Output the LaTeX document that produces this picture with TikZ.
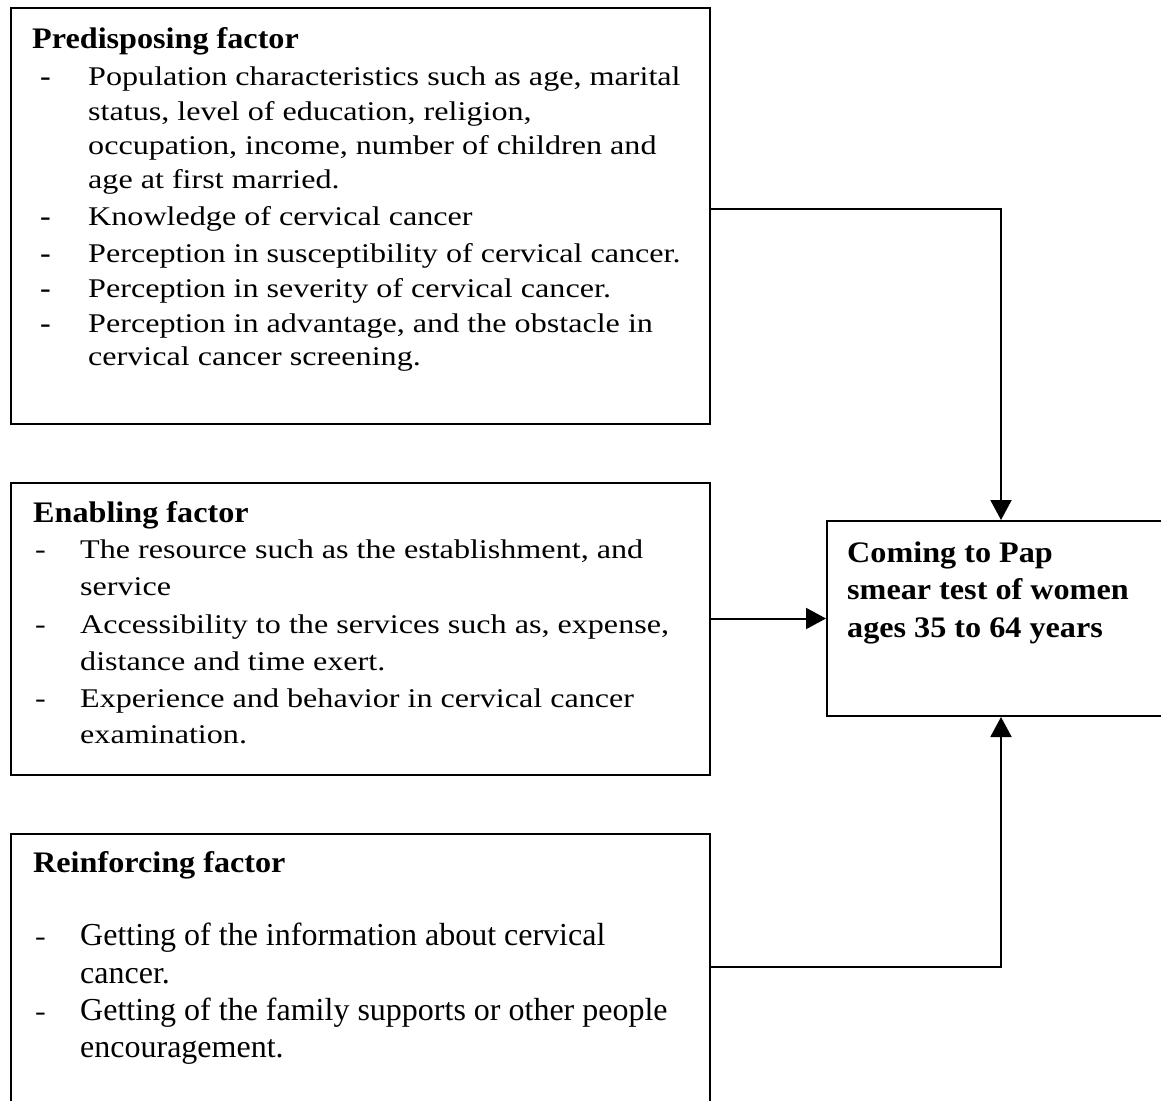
\documentclass[tikz,border=0pt]{standalone}
\usepackage{fontspec}
\setmainfont{Liberation Serif}[FakeStretch=1.19]
\newfontfamily\headfont{Liberation Serif}[FakeStretch=1.08]
\newfontfamily\plainfont{Liberation Serif}
\usetikzlibrary{arrows.meta}
\tikzset{
  box/.style={draw, line width=2pt, rectangle, anchor=north west, inner sep=0pt},
  body/.style={anchor=base west, inner sep=0pt, font=\fontsize{27}{30}\selectfont},
  bodyc/.style={anchor=base west, inner sep=0pt, font=\plainfont\fontsize{32}{36}\selectfont},
  head/.style={anchor=base west, inner sep=0pt, font=\headfont\bfseries\fontsize{29.8}{32}\selectfont},
  bdash/.style={anchor=base west, inner sep=0pt, font=\bfseries\fontsize{27}{30}\selectfont},
  ldash/.style={anchor=base west, inner sep=0pt, font=\fontsize{27}{30}\selectfont},
  arr/.style={line width=2pt, -{Triangle[length=20pt,width=21pt]}}
}
\begin{document}
\begin{tikzpicture}[x=1pt,y=-1pt]
\useasboundingbox (0,0) rectangle (1161,1100);
\fill[white] (0,0) rectangle (1161,1100);
\clip (0,0) rectangle (1161,1100);

% boxes
\node[box, minimum width=699pt, minimum height=416pt] (b1) at (10,7) {};
\node[box, minimum width=699pt, minimum height=292pt] (b2) at (10,482) {};
\node[box, minimum width=699pt, minimum height=300pt] (b3) at (10,833) {};
\node[box, minimum width=360pt, minimum height=195pt] (res) at (826,520) {};

% box 1
\node[head] (h1) at (32,48) {Predisposing factor};
\node[bdash] (d11) at (40,85) {-};
\node[bdash] (d12) at (40,225) {-};
\node[bdash] (d13) at (40,262) {-};
\node[bdash] (d14) at (40,297) {-};
\node[bdash] (d15) at (40,332) {-};
\node[body] (t11) at (88,85) {Population characteristics such as age, marital};
\node[body] (t12) at (88,120) {status, level of education, religion,};
\node[body] (t13) at (88,154) {occupation, income, number of children and};
\node[body] (t14) at (88,188) {age at first married.};
\node[body] (t15) at (88,225) {Knowledge of cervical cancer};
\node[body] (t16) at (88,262) {Perception in susceptibility of cervical cancer.};
\node[body] (t17) at (88,297) {Perception in severity of cervical cancer.};
\node[body] (t18) at (88,332) {Perception in advantage, and the obstacle in};
\node[body] (t19) at (88,365) {cervical cancer screening.};

% box 2
\node[head] (h2) at (33,522) {Enabling factor};
\node[ldash] (d21) at (35,558) {-};
\node[ldash] (d22) at (35,633) {-};
\node[ldash] (d23) at (35,707) {-};
\node[body] (t21) at (80,558) {The resource such as the establishment, and};
\node[body] (t22) at (80,595) {service};
\node[body] (t23) at (80,633) {Accessibility to the services such as, expense,};
\node[body] (t24) at (80,670) {distance and time exert.};
\node[body] (t25) at (80,707) {Experience and behavior in cervical cancer};
\node[body] (t26) at (80,743) {examination.};

% box 3
\node[head] (h3) at (33,872) {Reinforcing factor};
\node[ldash] (d31) at (35,945) {-};
\node[ldash] (d32) at (35,1020) {-};
\node[bodyc] (t31) at (80,945) {Getting of the information about cervical};
\node[bodyc] (t32) at (80,983) {cancer.};
\node[bodyc] (t33) at (80,1020) {Getting of the family supports or other people};
\node[bodyc] (t34) at (80,1057) {encouragement.};

% result box
\node[head] (r1) at (847,562) {Coming to Pap};
\node[head] (r2) at (847,599) {smear test of women};
\node[head] (r3) at (847,637) {ages 35 to 64 years};

% connectors
\draw[arr] ([yshift=7pt]b1.east) -| ([xshift=175pt]res.north west);
\draw[arr] (b2.east |- res.west) -- (res.west);
\draw[arr] ([yshift=-134pt]b3.north east) -| ([xshift=175pt]res.south west);
\end{tikzpicture}
\end{document}
